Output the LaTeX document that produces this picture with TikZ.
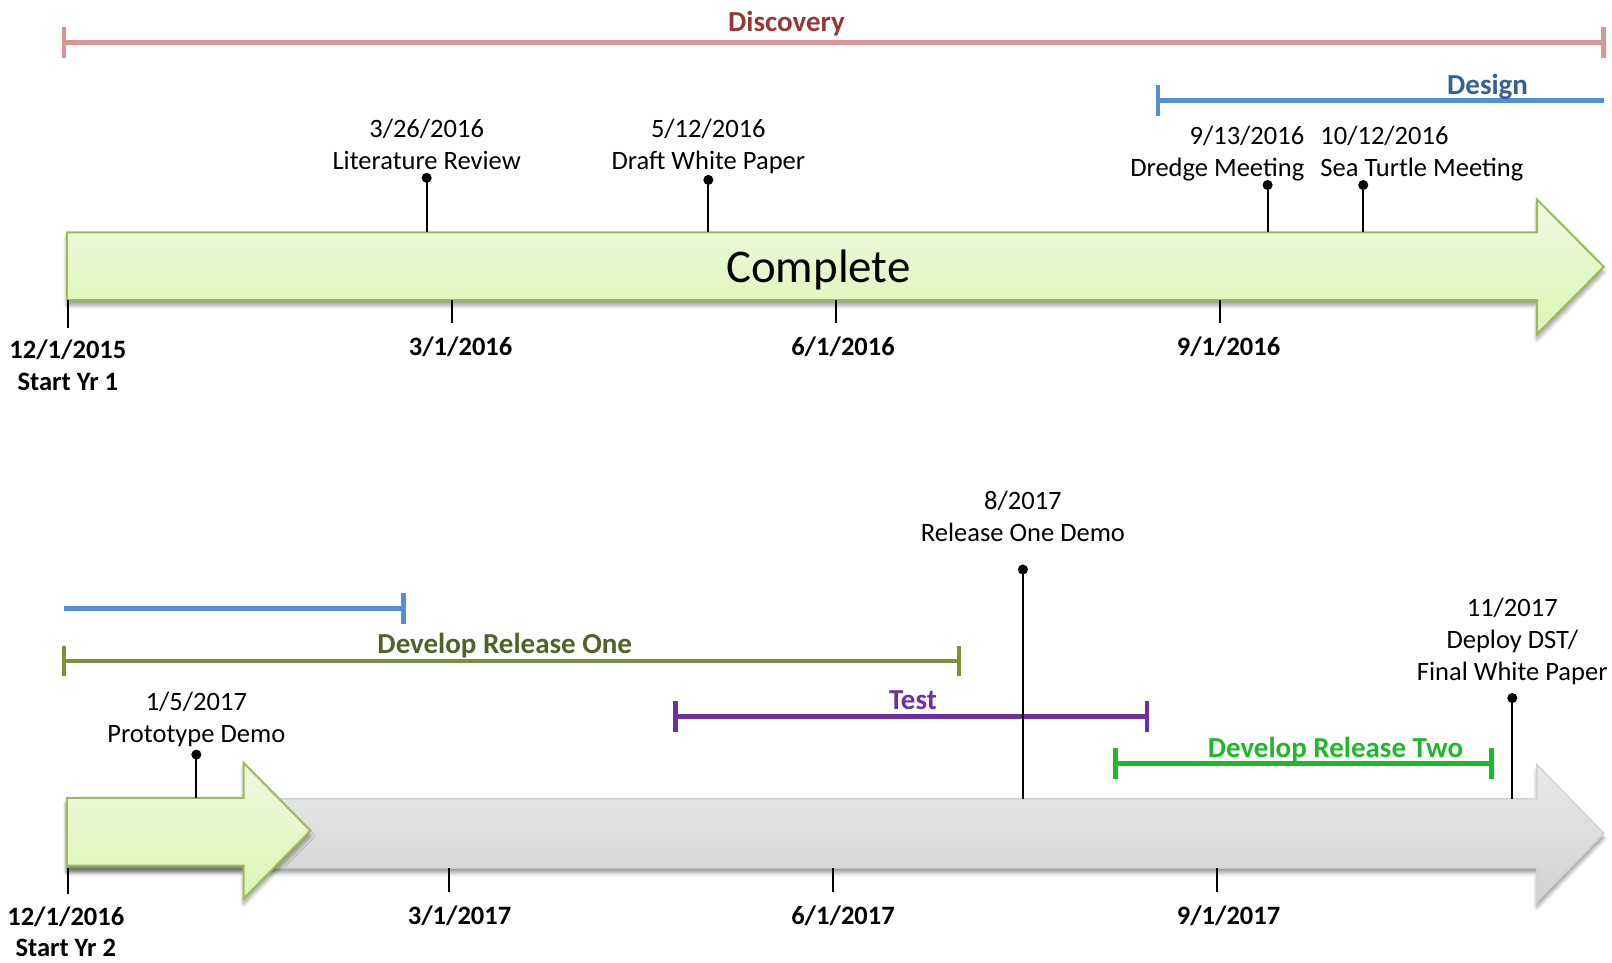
\documentclass[tikz,border=0pt]{standalone}
\usepackage{fontspec}
\setmainfont{Carlito}
\usetikzlibrary{arrows.meta,shadows.blur}
\definecolor{discT}{HTML}{953735}
\definecolor{discB}{HTML}{D99694}
\definecolor{desT}{HTML}{376092}
\definecolor{desB}{HTML}{558ED5}
\definecolor{droT}{HTML}{4F6228}
\definecolor{droB}{HTML}{77933C}
\definecolor{testC}{HTML}{7030A0}
\definecolor{drtC}{HTML}{1FB82A}
\definecolor{arrG}{HTML}{9BBB59}
\definecolor{arrGtop}{HTML}{EEFADF}
\definecolor{arrGbot}{HTML}{DCF5B5}
\definecolor{arrKtop}{HTML}{EAEAEA}
\definecolor{arrKbot}{HTML}{D2D2D2}
\definecolor{arrK}{HTML}{D4D4D4}
\begin{document}
\begin{tikzpicture}[x=0.5pt,y=-0.5pt,
  lbl/.style={font={\fontsize{12.9}{15.6}\selectfont}, inner sep=0pt, anchor=north, align=center},
  datelbl/.style={font={\fontsize{12.9}{15.6}\selectfont\bfseries}, inner sep=0pt, anchor=north, align=center},
  phaselbl/.style={font={\fontsize{14.1}{17}\selectfont\bfseries}, inner sep=0pt, anchor=base},
  phase/.style={line width=2.3pt},
  endtick/.tip={Bar[width=15pt]},
  dot/.style={circle, fill=black, inner sep=0pt, minimum size=4.9pt},
  stem/.style={line width=1pt, black},
  tick/.style={line width=1pt, black},
  greenarrow/.style={draw=arrG, line width=1pt, top color=arrGtop, bottom color=arrGbot,
     blur shadow={shadow xshift=0pt, shadow yshift=-2.5pt, shadow blur steps=6, shadow opacity=40}},
  grayarrow/.style={draw=arrK, line width=0.8pt, top color=arrKtop, bottom color=arrKbot,
     blur shadow={shadow xshift=0pt, shadow yshift=-2.5pt, shadow blur steps=6, shadow opacity=40}}
]
\useasboundingbox (0,0) rectangle (1568,936);

% ---------------- Year 1 ----------------
% phases
\coordinate (discL) at (60,41);
\coordinate (discR) at (1562,41);
\draw[phase, discB, endtick-endtick] (discL) -- (discR);
\node[phaselbl, text=discT] (discLbl) at (765,31) {Discovery};

\coordinate (desL) at (1124,98);
\coordinate (desR) at (1560,98);
\draw[phase, desB, endtick-] (desL) -- (desR);
\node[phaselbl, text=desT] (desLbl) at (1447,92) {Design};

% main arrow
\draw[greenarrow] (65,226) -- (1495,226) -- (1495,194) -- (1560,259.5) -- (1495,325) -- (1495,292) -- (65,292) -- cycle;
\node[font={\fontsize{22.8}{27}\selectfont}, inner sep=0pt] (complete) at (796,263) {Complete};
\coordinate (topA) at (0,226);
\coordinate (botA) at (0,292);

% milestones
\node[dot] (m1) at (415,173) {};
\node[dot] (m2) at (689,175) {};
\node[dot] (m3) at (1233,180) {};
\node[dot] (m4) at (1326,180) {};
\foreach \m in {m1,m2,m3,m4} \draw[stem] (\m.center) -- (\m |- topA);
\node[lbl] (t1) at (415,115) {3/26/2016\\Literature Review};
\node[lbl] (t2) at (689,115) {5/12/2016\\Draft White Paper};
\node[lbl, align=right, anchor=north east] (t3) at (1269,122) {9/13/2016\\Dredge Meeting};
\node[lbl, align=left, anchor=north west] (t4) at (1284,122) {10/12/2016\\Sea Turtle Meeting};

% axis ticks
\coordinate (k0) at (66,319);
\coordinate (k1) at (440,314);
\coordinate (k2) at (813,314);
\coordinate (k3) at (1187,314);
\foreach \k in {k0,k1,k2,k3} \draw[tick] (\k |- botA) -- (\k);
\node[datelbl] (d0) at (66,330) {12/1/2015\\Start Yr 1};
\node[datelbl] (d1) at (448,327) {3/1/2016};
\node[datelbl] (d2) at (820,327) {6/1/2016};
\node[datelbl] (d3) at (1195,327) {9/1/2016};

% ---------------- Year 2 ----------------
% gray arrow then progress arrow
\draw[grayarrow] (65,777) -- (1495,777) -- (1495,744) -- (1560,810.5) -- (1495,877) -- (1495,844) -- (65,844) -- cycle;
\draw[greenarrow] (65,776) -- (237,776) -- (237,742) -- (302,808) -- (237,874) -- (237,842) -- (65,842) -- cycle;
\coordinate (topB) at (0,776);
\coordinate (topC) at (0,777);
\coordinate (botB) at (0,844);

% phases
\coordinate (bluL) at (62,592);
\coordinate (bluR) at (395,592);
\draw[phase, desB, -endtick] (bluL) -- (bluR);

\coordinate (droL) at (60,643);
\coordinate (droR) at (935,643);
\draw[phase, droB, endtick-endtick] (droL) -- (droR);
\node[phaselbl, text=droT] (droLbl) at (491,636) {Develop Release One};

\coordinate (tstL) at (655,697);
\coordinate (tstR) at (1118,697);
\draw[phase, testC, endtick-endtick] (tstL) -- (tstR);
\node[phaselbl, text=testC] (tstLbl) at (888,690) {Test};

\coordinate (drtL) at (1083,743);
\coordinate (drtR) at (1453,743);
\draw[phase, drtC, endtick-endtick] (drtL) -- (drtR);
\node[phaselbl, text=drtC] (drtLbl) at (1299,737) {Develop Release Two};

% milestones
\node[dot] (n1) at (191,734) {};
\node[dot] (n2) at (995,554) {};
\node[dot] (n3) at (1471,679) {};
\draw[stem] (n1.center) -- (n1 |- topB);
\draw[stem] (n2.center) -- (n2 |- topC);
\draw[stem] (n3.center) -- (n3 |- topC);
\node[lbl] (u1) at (191,673) {1/5/2017\\Prototype Demo};
\node[lbl] (u2) at (995,477) {8/2017\\Release One Demo};
\node[lbl] (u3) at (1471,581) {11/2017\\Deploy DST/\\Final White Paper};

% axis ticks
\coordinate (j0) at (66,870);
\coordinate (j1) at (437,868);
\coordinate (j2) at (810,868);
\coordinate (j3) at (1184,868);
\foreach \k in {j0,j1,j2,j3} \draw[tick] (\k |- botB) -- (\k);
\node[datelbl, font={\fontsize{12.9}{15}\selectfont\bfseries}] (e0) at (64,882) {12/1/2016\\Start Yr 2};
\node[datelbl] (e1) at (447,881) {3/1/2017};
\node[datelbl] (e2) at (820,881) {6/1/2017};
\node[datelbl] (e3) at (1195,881) {9/1/2017};
\end{tikzpicture}
\end{document}
